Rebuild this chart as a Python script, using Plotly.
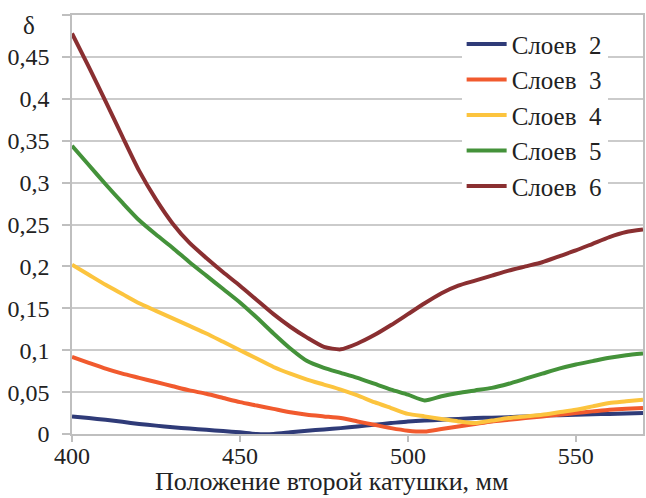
import plotly.graph_objects as go

x_mm = [400, 405, 410, 415, 420, 425, 430, 435, 440, 445, 450, 455, 460, 465, 470,
        475, 480, 485, 490, 495, 500, 505, 510, 515, 520, 525, 530, 535, 540, 545,
        550, 555, 560, 565, 570]

layers2 = [0.021, 0.019, 0.017, 0.0145, 0.012, 0.010, 0.008, 0.0065, 0.005, 0.0035, 0.002, 0.0,
           0.0, 0.002, 0.004, 0.0055, 0.007, 0.009, 0.011, 0.013, 0.015, 0.016, 0.017, 0.018,
           0.019, 0.0195, 0.020, 0.021, 0.022, 0.0225, 0.023, 0.0235, 0.024, 0.0245, 0.025]
layers3 = [0.092, 0.085, 0.078, 0.072, 0.067, 0.062, 0.057, 0.052, 0.048, 0.043, 0.038, 0.034,
           0.030, 0.026, 0.023, 0.021, 0.019, 0.015, 0.011, 0.007, 0.004, 0.003, 0.006, 0.009,
           0.012, 0.015, 0.017, 0.019, 0.021, 0.023, 0.025, 0.027, 0.029, 0.030, 0.031]
layers4 = [0.202, 0.190, 0.178, 0.167, 0.156, 0.147, 0.138, 0.129, 0.120, 0.110, 0.100, 0.090,
           0.080, 0.072, 0.065, 0.059, 0.053, 0.046, 0.038, 0.031, 0.024, 0.021, 0.018, 0.015,
           0.013, 0.016, 0.019, 0.021, 0.023, 0.026, 0.029, 0.033, 0.037, 0.039, 0.041]
layers5 = [0.344, 0.321, 0.298, 0.276, 0.255, 0.238, 0.222, 0.205, 0.189, 0.173, 0.157, 0.139,
           0.120, 0.102, 0.087, 0.079, 0.073, 0.067, 0.060, 0.053, 0.047, 0.040, 0.045, 0.049,
           0.052, 0.055, 0.060, 0.066, 0.072, 0.078, 0.083, 0.087, 0.091, 0.094, 0.096]
layers6 = [0.478, 0.438, 0.397, 0.355, 0.314, 0.280, 0.251, 0.228, 0.210, 0.193, 0.177, 0.160,
           0.143, 0.128, 0.115, 0.104, 0.101, 0.108, 0.118, 0.130, 0.143, 0.156, 0.168, 0.177,
           0.183, 0.189, 0.195, 0.200, 0.205, 0.212, 0.219, 0.227, 0.235, 0.241, 0.244]

series_names = ["Слоев\u00a0\u00a02", "Слоев\u00a0\u00a03", "Слоев\u00a0\u00a04",
                "Слоев\u00a0\u00a05", "Слоев\u00a0\u00a06"]
series_values = [layers2, layers3, layers4, layers5, layers6]
colors = ["#2F3B78", "#F15A2E", "#FCC43E", "#44923A", "#8A2F31"]

y_tickvals = [0, 0.05, 0.1, 0.15, 0.2, 0.25, 0.3, 0.35, 0.4, 0.45, 0.5]
y_ticktext = ["0", "0,05", "0,1", "0,15", "0,2", "0,25", "0,3", "0,35", "0,4", "0,45", ""]
x_tickvals = [400, 450, 500, 550]
x_title = "Положение второй катушки, мм"
y_title = "δ"

FONT = "Liberation Serif"
TXT = "#222222"

fig = go.Figure()
for name, vals, col in zip(series_names, series_values, colors):
    fig.add_trace(go.Scatter(x=x_mm, y=vals, name=name, mode="lines",
                             line=dict(color=col, width=4, shape="spline", smoothing=0.6)))

fig.update_layout(
    width=646, height=498,
    margin=dict(l=72, r=1, t=15, b=64),
    paper_bgcolor="white", plot_bgcolor="white",
    font=dict(family=FONT, size=24, color=TXT),
    showlegend=True,
    legend=dict(x=(463 - 72) / 573, y=0.985, xanchor="left", yanchor="top",
                bgcolor="white", borderwidth=0,
                font=dict(family=FONT, size=25, color=TXT),
                itemwidth=40, tracegroupgap=0),
    xaxis=dict(range=[400, 570], tickvals=x_tickvals, showgrid=False,
               showline=True, linecolor="#BFBFBF", linewidth=1.5, mirror=True,
               ticks="outside", ticklen=6, tickcolor="#BFBFBF", tickwidth=1.5,
               tickfont=dict(family=FONT, size=24, color=TXT),
               ticklabelstandoff=-7, zeroline=False),
    yaxis=dict(range=[0, 0.5], tickvals=y_tickvals, ticktext=y_ticktext,
               showgrid=True, gridcolor="#CBCBCB", gridwidth=1.5,
               showline=True, linecolor="#BFBFBF", linewidth=1.5, mirror=True,
               ticks="outside", ticklen=8, tickcolor="#BFBFBF", tickwidth=1.5,
               tickfont=dict(family=FONT, size=24, color=TXT),
               ticklabelstandoff=8, zeroline=False),
    annotations=[
        dict(text=y_title, xref="paper", yref="paper",
             x=(29 - 72) / 573, y=(434 - 25) / 419,
             xanchor="center", yanchor="middle", showarrow=False,
             font=dict(family=FONT, size=25, color=TXT)),
        dict(text=x_title, xref="paper", yref="paper",
             x=(332 - 72) / 573, y=(434 - 497) / 419,
             xanchor="center", yanchor="bottom", showarrow=False,
             borderpad=0,
             font=dict(family=FONT, size=26, color=TXT)),
    ],
)

fig.write_html("out.html")
